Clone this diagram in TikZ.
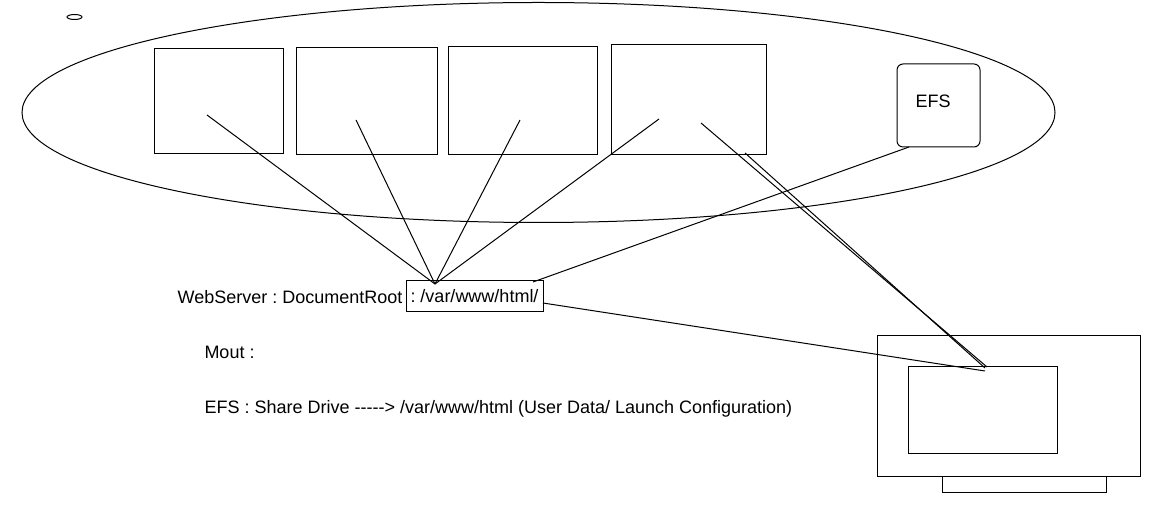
\documentclass[tikz,border=0pt]{standalone}
\usepackage{fontspec}
\setmainfont{Liberation Sans}[Ligatures=NoCommon]
\frenchspacing
\usetikzlibrary{shapes.geometric}
\begin{document}
\begin{tikzpicture}[x=0.5pt,y=-0.5pt, line width=0.5pt,
  every node/.style={font=\fontsize{9}{11}\selectfont},
  vm/.style={draw, rectangle, inner sep=0pt},
  link/.style={draw, line width=0.5pt},
  txt/.style={inner sep=0pt, anchor=west}]
\useasboundingbox (0,0) rectangle (1159,512);
% ellipses
\node[ellipse, draw, inner sep=0pt, minimum width=7.5pt, minimum height=2.5pt] (dot) at (74.5,17) {};
\node[ellipse, draw, inner sep=0pt, minimum width=516.5pt, minimum height=110pt] (group) at (538.5,112.5) {};
% instances
\node[vm, minimum width=64.5pt, minimum height=52.5pt] (b1) at (218.5,101.5) {};
\node[vm, minimum width=70.5pt, minimum height=53.5pt] (b2) at (366.5,101.5) {};
\node[vm, minimum width=74.5pt, minimum height=54pt] (b3) at (522.5,101) {};
\node[vm, minimum width=77.5pt, minimum height=55pt] (b4) at (688.5,100) {};
\node[vm, rounded corners=3pt, minimum width=41.5pt, minimum height=41.5pt] (efs) at (938.5,105.5) {};
\node[inner sep=0pt] (efslabel) at (933,101) {EFS};
% monitor
\node[vm, minimum width=82pt, minimum height=8pt] (stand) at (1024,484) {};
\node[vm, fill=white, minimum width=131.5pt, minimum height=70pt] (screen) at (1008.5,406) {};
\node[vm, minimum width=74.5pt, minimum height=43pt] (panel) at (982.5,410) {};
% texts
\node[vm, minimum width=68.5pt, minimum height=15.5pt] (root) at (474.5,296.5) {: /var/www/html/};
\node[inner sep=0pt, anchor=east] (web) at (403,297) {WebServer : DocumentRoot};
\node[txt] (mout) at (204,352) {Mout :};
\node[txt] (share) at (204,409) {EFS : Share Drive -{}-{}-{}-{}-> /var/www/html (User Data/ Launch Configuration)};
% connector points
\coordinate (p1) at (207,115);
\coordinate (p2) at (356,120);
\coordinate (p3) at (520,120);
\coordinate (p4) at (659,119);
\coordinate (p5) at (701,123);
\coordinate (p6) at (745,153);
\coordinate (hub) at (435,284);
\coordinate (efsfoot) at (909,147);
\coordinate (rootin) at (533,282);
\coordinate (rootout) at (543,303);
\coordinate (scr1) at (987,367);
\coordinate (scr2) at (985,368);
\coordinate (scr3) at (985,371);
% connectors
\draw[link] (p1) -- (hub);
\draw[link] (p2) -- (hub);
\draw[link] (p3) -- (hub);
\draw[link] (p4) -- (hub);
\draw[link] (efsfoot) -- (rootin);
\draw[link] (p5) -- (scr1);
\draw[link] (p6) -- (scr2);
\draw[link] (rootout) -- (scr3);
\end{tikzpicture}
\end{document}
